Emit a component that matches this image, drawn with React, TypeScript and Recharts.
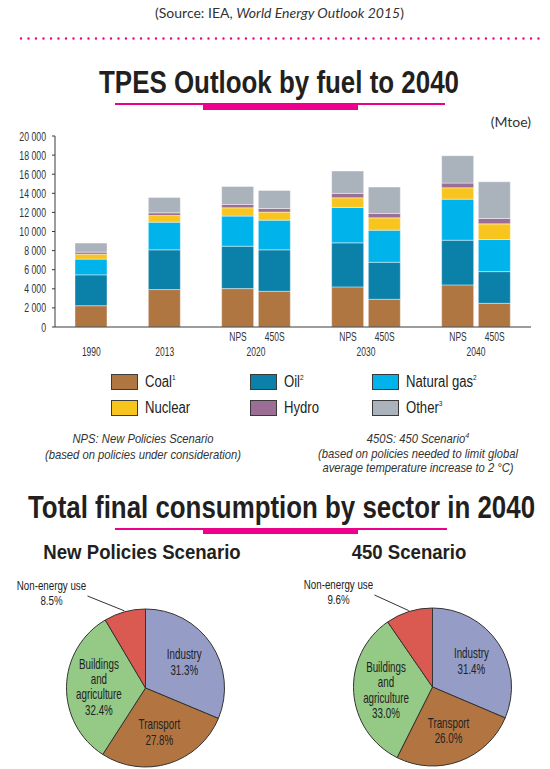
import { Bar, BarChart, Cell, Legend, Pie, PieChart, XAxis, YAxis } from "recharts";

const SANS = '"Liberation Sans", Arial, sans-serif';
const ROUND = 'Lato, "Noto Sans", sans-serif';
const PINK = "#ec008c";
const INK = "#231f20";

// TPES by fuel (Mtoe), empty slots keep the gaps between the year groups
const slots = ["1990", "gap-a", "2013", "gap-b", "NPS 2020", "450S 2020", "gap-c", "NPS 2030", "450S 2030", "gap-d", "NPS 2040", "450S 2040"];
const scenarioLabels = ["", "", "", "", "NPS", "450S", "", "NPS", "450S", "", "NPS", "450S"];
const yearLabels = ["1990", "", "2013", "", "2020", "", "", "2030", "", "", "2040", ""];

const coal = [2230, null, 3920, null, 4020, 3740, null, 4200, 2900, null, 4410, 2480];
const oil = [3230, null, 4160, null, 4440, 4340, null, 4610, 3880, null, 4680, 3320];
const gas = [1650, null, 2900, null, 3150, 3110, null, 3710, 3360, null, 4300, 3360];
const nuclear = [520, null, 700, null, 870, 840, null, 1010, 1290, null, 1190, 1640];
const hydro = [210, null, 280, null, 350, 380, null, 460, 460, null, 490, 560];
const other = [950, null, 1610, null, 1890, 1890, null, 2340, 2760, null, 2870, 3850];

const fuelKeys = ["coal", "oil", "gas", "nuclear", "hydro", "other"];
const fuelNames = ["Coal", "Oil", "Natural gas", "Nuclear", "Hydro", "Other"];
const fuelNotes = ["1", "2", "2", "", "", "3"];
const fuelColors = ["#b07642", "#0b80a8", "#00b3eb", "#f8c51f", "#9c6e95", "#aab2bb"];

const yTicks = [0, 2000, 4000, 6000, 8000, 10000, 12000, 14000, 16000, 18000, 20000];

// final consumption by sector in 2040 (%)
const sectors = ["Industry", "Transport", "Buildings\nand\nagriculture", "Non-energy use"];
const npsShares = [31.3, 27.8, 32.4, 8.5];
const s450Shares = [31.4, 26.0, 33.0, 9.6];
const sectorColors = ["#959dc6", "#b27541", "#95c986", "#da5951"];

const fuelRows = slots.map((slot, i) => ({
  slot,
  coal: coal[i],
  oil: oil[i],
  gas: gas[i],
  nuclear: nuclear[i],
  hydro: hydro[i],
  other: other[i],
}));

const npsRows = sectors.map((name, i) => ({ name, value: npsShares[i] }));
const s450Rows = sectors.map((name, i) => ({ name, value: s450Shares[i] }));

const fmtThousands = (v: number) => String(v).replace(/\B(?=(\d{3})+(?!\d))/g, " ");

// the original uses a condensed face, so squeeze Liberation Sans horizontally
const SqText = ({ x, y, sx = 0.7, anchor = "middle", size = 12.5, weight = 400, italic = false, fill = "#333", children }: any) => (
  <text
    transform={`translate(${x} ${y}) scale(${sx} 1)`}
    textAnchor={anchor}
    style={{ fontFamily: SANS, fontSize: size, fontWeight: weight, fontStyle: italic ? "italic" : "normal", fill }}
  >
    {children}
  </text>
);

const SlotTick = (props: any) => {
  const { x, y, payload } = props;
  const i = slots.indexOf(payload.value);
  const scen = scenarioLabels[i];
  const year = yearLabels[i];
  return (
    <g>
      {scen && <SqText x={x} y={y + 14} sx={0.68}>{scen}</SqText>}
      {year && <SqText x={scen ? x + 18 : x} y={y + 29} sx={0.68}>{year}</SqText>}
    </g>
  );
};

const ValueTick = (props: any) => {
  const { x, y, payload } = props;
  return (
    <SqText x={x} y={y + 4.5} anchor="end">
      {fmtThousands(payload.value)}
    </SqText>
  );
};

const FuelLegend = () => (
  <div style={{ position: "relative", width: 550, height: 46 }}>
    {fuelKeys.map((k, i) => (
      <div
        key={k}
        style={{
          position: "absolute",
          left: [111, 250, 372][i % 3],
          top: Math.floor(i / 3) * 26,
          height: 18,
          display: "flex",
          alignItems: "center",
          whiteSpace: "nowrap",
        }}
      >
        <span
          style={{
            width: 27,
            height: 16,
            boxSizing: "border-box",
            border: "1px solid #3a3a3a",
            background: fuelColors[i],
          }}
        />
        <span
          style={{
            display: "inline-block",
            marginLeft: 7,
            fontFamily: SANS,
            fontSize: 16,
            color: "#222",
            lineHeight: "18px",
            height: 18,
            transform: "scaleX(0.82)",
            transformOrigin: "left center",
          }}
        >
          {fuelNames[i]}
          {fuelNotes[i] && (
            <sup style={{ fontSize: 8, lineHeight: 0, verticalAlign: 7 }}>{fuelNotes[i]}</sup>
          )}
        </span>
      </div>
    ))}
  </div>
);

const RAD = Math.PI / 180;

const makePieLabel = (shares: number[]) => (props: any) => {
  const { cx, cy, midAngle, outerRadius, index } = props;
  const pct = `${shares[index].toFixed(1)}%`;
  if (index === 3) {
    const lx = cx - 94;
    const ex = cx + (outerRadius + 1) * Math.cos(-midAngle * RAD);
    const ey = cy + (outerRadius + 1) * Math.sin(-midAngle * RAD);
    const style = { fontFamily: SANS, fontSize: 13, fill: "#222" };
    return (
      <g>
        <polyline points={`${lx + 36},${cy - 92} ${ex},${ey}`} stroke="#333" strokeWidth={1} fill="none" />
        <text transform={`translate(${lx} ${cy - 103}) scale(0.75 1)`} textAnchor="middle" dominantBaseline="central" style={style}>
          <tspan x={0} y={0}>{sectors[index]}</tspan>
          <tspan x={0} y={15}>{pct}</tspan>
        </text>
      </g>
    );
  }
  const style = { fontFamily: SANS, fontSize: 14, fill: "#222" };
  const lines = sectors[index].split("\n").concat(pct);
  const r = outerRadius * 0.59;
  const x = cx + r * Math.cos(-midAngle * RAD);
  const y = cy + r * Math.sin(-midAngle * RAD);
  const lh = 15.5;
  const y0 = y - ((lines.length - 1) * lh) / 2;
  return (
    <text transform={`translate(${x} ${y0}) scale(0.7 1)`} textAnchor="middle" dominantBaseline="central" style={style}>
      {lines.map((line, i) => (
        <tspan key={i} x={0} y={i * lh}>
          {line}
        </tspan>
      ))}
    </text>
  );
};

const Title = ({ x, y, size, sx, children }: any) => (
  <text
    transform={`translate(${x} ${y}) scale(${sx} 1)`}
    textAnchor="middle"
    style={{ fontFamily: SANS, fontWeight: 700, fontSize: size, fill: INK }}
  >
    {children}
  </text>
);

const App = () => {
  return (
    <div style={{ position: "absolute", left: 0, top: 0, width: 550, height: 769, background: "#fff" }}>
      <svg width={550} height={769} style={{ position: "absolute", left: 0, top: 0 }}>
        <text x={279.5} y={18} textAnchor="middle" style={{ fontFamily: ROUND, fontSize: 14, fill: "#333" }}>
          (Source: IEA, <tspan fontStyle="italic">World Energy Outlook 2015</tspan>)
        </text>
        <line x1={21} x2={541} y1={38.5} y2={38.5} stroke={PINK} strokeWidth={2.4} strokeDasharray="0 7.5" strokeLinecap="round" />

        <Title x={279} y={93} size={32} sx={0.81}>TPES Outlook by fuel to 2040</Title>
        <rect x={115} y={103} width={330} height={2} fill={PINK} />
        <rect x={203} y={103} width={155} height={7} fill={PINK} />

        <text x={531} y={127} textAnchor="end" style={{ fontFamily: ROUND, fontSize: 14, fill: "#333" }}>
          (Mtoe)
        </text>

        <SqText x={143} y={443} sx={0.9} size={12.5} italic>NPS: New Policies Scenario</SqText>
        <SqText x={143} y={458.5} sx={0.9} size={12.5} italic>(based on policies under consideration)</SqText>
        <SqText x={418} y={443} sx={0.9} size={12.5} italic>
          450S: 450 Scenario<tspan fontSize={8} dy={-5}>4</tspan>
        </SqText>
        <SqText x={418} y={458} sx={0.9} size={12.5} italic>(based on policies needed to limit global</SqText>
        <SqText x={418} y={472} sx={0.9} size={12.5} italic>average temperature increase to 2 °C)</SqText>

        <Title x={281.5} y={518} size={31} sx={0.835}>Total final consumption by sector in 2040</Title>
        <rect x={115} y={528} width={332} height={2} fill={PINK} />
        <rect x={203} y={528} width={155} height={6} fill={PINK} />

        <Title x={142} y={559} size={20} sx={0.93}>New Policies Scenario</Title>
        <Title x={409} y={559} size={20} sx={0.93}>450 Scenario</Title>
      </svg>

      <div style={{ position: "absolute", left: 0, top: 115 }}>
        <BarChart width={550} height={250} data={fuelRows} margin={{ top: 21, right: 19, left: 0, bottom: 3 }}>
          <XAxis
            dataKey="slot"
            interval={0}
            padding={{ left: 18, right: 18 }}
            height={35}
            tickLine={false}
            tickSize={0}
            tickMargin={0}
            tick={<SlotTick />}
            axisLine={{ stroke: "#3a3a3a" }}
          />
          <XAxis xAxisId="top" dataKey="slot" orientation="top" height={0} tick={false} tickLine={false} axisLine={{ stroke: "#3a3a3a" }} />
          <YAxis
            type="number"
            domain={[0, 20000]}
            ticks={yTicks}
            interval={0}
            width={55}
            tickSize={3}
            tickMargin={6}
            tick={<ValueTick />}
            tickLine={{ stroke: "#3a3a3a" }}
            axisLine={{ stroke: "#3a3a3a" }}
          />
          <YAxis yAxisId="right" orientation="right" domain={[0, 1]} width={0} tick={false} tickLine={false} axisLine={{ stroke: "#3a3a3a" }} />
          <Legend
            layout="horizontal"
            verticalAlign="middle"
            align="center"
            wrapperStyle={{ left: 0, top: 258, width: 550 }}
            content={<FuelLegend />}
          />
          {fuelKeys.map((k, i) => (
            <Bar
              key={k}
              dataKey={k}
              name={fuelNames[i]}
              stackId="tpes"
              fill={fuelColors[i]}
              stroke="#ffffff"
              strokeOpacity={0.6}
              strokeWidth={0.7}
              barSize={32}
              isAnimationActive={false}
            />
          ))}
        </BarChart>
      </div>

      <div style={{ position: "absolute", left: 0, top: 560 }}>
        <PieChart width={550} height={209}>
          <Pie
            data={npsRows}
            dataKey="value"
            nameKey="name"
            cx={140.5}
            cy={123}
            outerRadius={79}
            startAngle={90}
            endAngle={-270}
            stroke="#333"
            strokeWidth={1}
            labelLine={false}
            label={makePieLabel(npsShares)}
            isAnimationActive={false}
          >
            {npsRows.map((row, i) => (
              <Cell key={row.name} fill={sectorColors[i]} />
            ))}
          </Pie>
          <Pie
            data={s450Rows}
            dataKey="value"
            nameKey="name"
            cx={427.5}
            cy={122}
            outerRadius={79}
            startAngle={90}
            endAngle={-270}
            stroke="#333"
            strokeWidth={1}
            labelLine={false}
            label={makePieLabel(s450Shares)}
            isAnimationActive={false}
          >
            {s450Rows.map((row, i) => (
              <Cell key={row.name} fill={sectorColors[i]} />
            ))}
          </Pie>
        </PieChart>
      </div>
    </div>
  );
};

export default App;
